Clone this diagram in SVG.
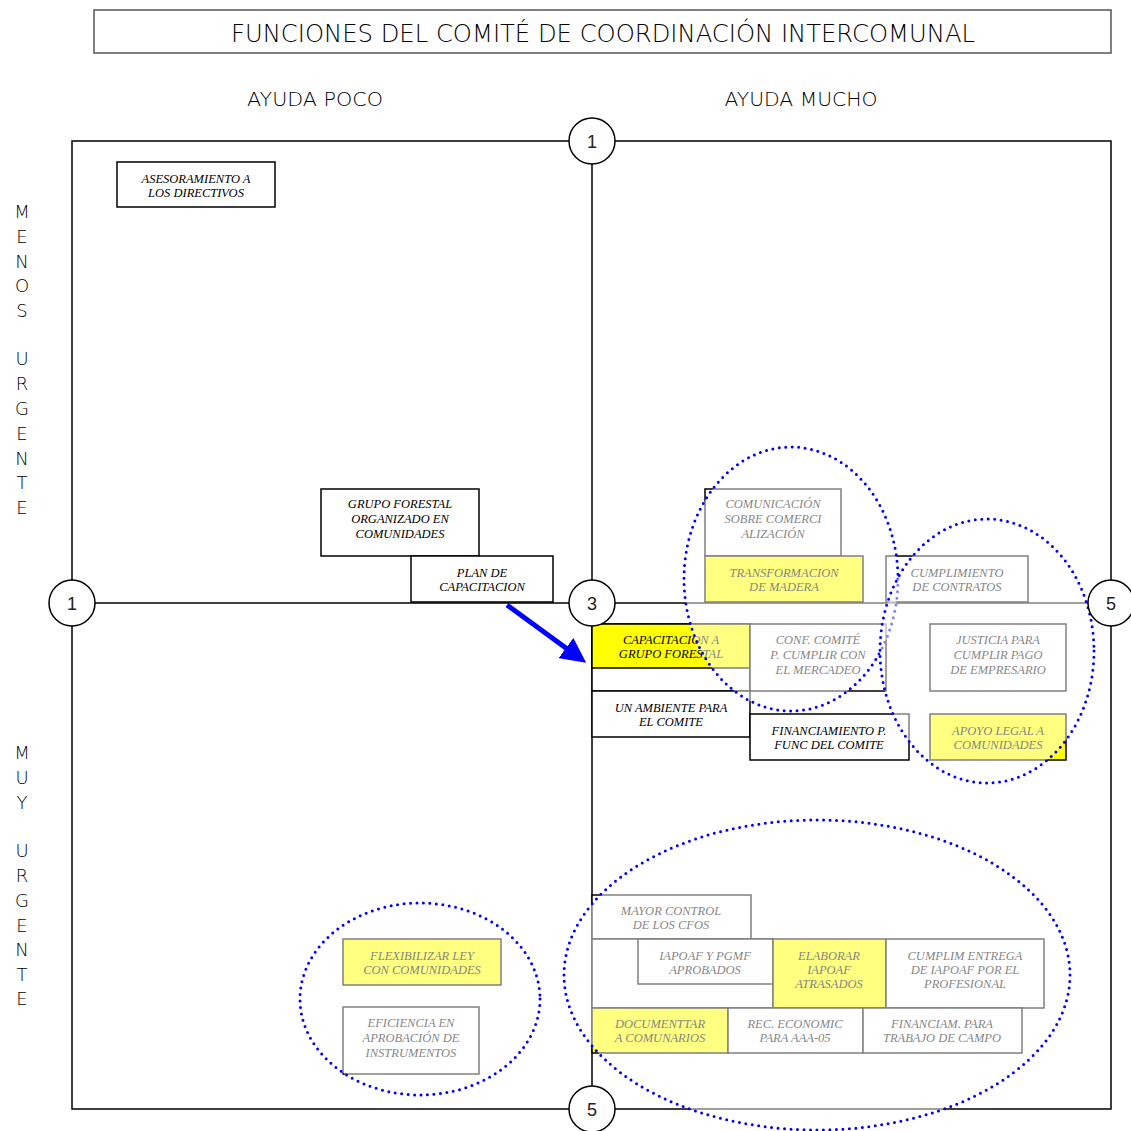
<svg xmlns="http://www.w3.org/2000/svg" width="1131" height="1131" viewBox="0 0 1131 1131">
  <style>
    .frame { fill: none; stroke: #000; stroke-width: 1.5; }
    .axis { stroke: #000; stroke-width: 1.5; }
    .box { fill: #fff; stroke: #000; stroke-width: 1.5; }
    .hl { fill: #ffff00; stroke: #000; stroke-width: 1.5; }
    .lbl { font-family: "Liberation Serif", "Times New Roman", serif; font-style: italic; font-size: 12.5px; fill: #000; text-anchor: middle; }
    .head { font-family: "DejaVu Sans", "Liberation Sans", sans-serif; font-weight: 200; fill: #000; text-anchor: middle; }
    .side { font-family: "DejaVu Sans", "Liberation Sans", sans-serif; font-weight: 200; font-size: 18px; fill: #000; text-anchor: middle; }
    .num circle { fill: #fff; stroke: #000; stroke-width: 1.5; }
    .num text { font-family: "Liberation Sans", Arial, sans-serif; font-size: 18px; fill: #222; text-anchor: middle; }
    .group { fill: #fff; fill-opacity: 0.5; stroke: #0000ff; stroke-width: 3; stroke-linecap: round; stroke-dasharray: 0 6.5; }
  </style>
  <defs>
    <marker id="arrowhead" markerWidth="5" markerHeight="5" refX="1" refY="2.5" orient="auto" markerUnits="strokeWidth">
      <path d="M0,0 L5,2.5 L0,5 z" fill="#0000ff"/>
    </marker>
  </defs>

  <rect width="1131" height="1131" fill="#fff"/>

  <!-- title -->
  <g id="title">
    <rect x="94" y="10" width="1017" height="43" fill="#fff" stroke="#555" stroke-width="1.5"/>
    <text class="head" x="603" y="42" font-size="25" textLength="744" lengthAdjust="spacingAndGlyphs">FUNCIONES DEL COMITÉ DE COORDINACIÓN INTERCOMUNAL</text>
  </g>

  <!-- column headings -->
  <text class="head" x="315" y="106" font-size="19" textLength="136" lengthAdjust="spacingAndGlyphs">AYUDA POCO</text>
  <text class="head" x="801" y="106" font-size="19" textLength="153" lengthAdjust="spacingAndGlyphs">AYUDA MUCHO</text>

  <!-- row headings, one letter per line -->
  <g id="row-top">
    <text class="side" x="22" y="218">M</text>
    <text class="side" x="22" y="243">E</text>
    <text class="side" x="22" y="268">N</text>
    <text class="side" x="22" y="292">O</text>
    <text class="side" x="22" y="317">S</text>
    <text class="side" x="22" y="365">U</text>
    <text class="side" x="22" y="390">R</text>
    <text class="side" x="22" y="415">G</text>
    <text class="side" x="22" y="440">E</text>
    <text class="side" x="22" y="465">N</text>
    <text class="side" x="22" y="489">T</text>
    <text class="side" x="22" y="514">E</text>
  </g>
  <g id="row-bottom">
    <text class="side" x="22" y="759">M</text>
    <text class="side" x="22" y="784">U</text>
    <text class="side" x="22" y="809">Y</text>
    <text class="side" x="22" y="857">U</text>
    <text class="side" x="22" y="882">R</text>
    <text class="side" x="22" y="907">G</text>
    <text class="side" x="22" y="932">E</text>
    <text class="side" x="22" y="956">N</text>
    <text class="side" x="22" y="981">T</text>
    <text class="side" x="22" y="1005">E</text>
  </g>

  <!-- quadrant frame and axes -->
  <g id="matrix">
    <rect class="frame" x="72" y="141" width="1039" height="968"/>
    <line class="axis" x1="592" y1="141" x2="592" y2="1109"/>
    <line class="axis" x1="72" y1="603" x2="1111" y2="603"/>
  </g>

  <!-- upper-left quadrant -->
  <g id="n-asesoramiento">
    <rect class="box" x="117" y="162" width="158" height="45"/>
    <text class="lbl" x="196" y="183">ASESORAMIENTO A</text>
    <text class="lbl" x="196" y="197">LOS DIRECTIVOS</text>
  </g>
  <g id="n-grupo-forestal">
    <rect class="box" x="321" y="489" width="158" height="67"/>
    <text class="lbl" x="400" y="508">GRUPO FORESTAL</text>
    <text class="lbl" x="400" y="523">ORGANIZADO  EN</text>
    <text class="lbl" x="400" y="538">COMUNIDADES</text>
  </g>
  <g id="n-plan">
    <rect class="box" x="411" y="556" width="142" height="46"/>
    <text class="lbl" x="482" y="577">PLAN DE</text>
    <text class="lbl" x="482" y="591">CAPACITACION</text>
  </g>

  <!-- upper-right quadrant -->
  <g id="n-comunicacion">
    <rect class="box" x="705" y="489" width="136" height="67"/>
    <text class="lbl" x="773" y="508">COMUNICACIÓN</text>
    <text class="lbl" x="773" y="523">SOBRE COMERCI</text>
    <text class="lbl" x="773" y="538">ALIZACIÓN</text>
  </g>
  <g id="n-transformacion">
    <rect class="hl" x="705" y="556" width="158" height="46"/>
    <text class="lbl" x="784" y="577">TRANSFORMACION</text>
    <text class="lbl" x="784" y="591">DE MADERA</text>
  </g>
  <g id="n-cumplimiento">
    <rect class="box" x="886" y="556" width="142" height="46"/>
    <text class="lbl" x="957" y="577">CUMPLIMIENTO</text>
    <text class="lbl" x="957" y="591">DE CONTRATOS</text>
  </g>

  <!-- lower-right quadrant, upper cluster -->
  <g id="n-capacitacion">
    <rect class="box" x="592" y="624" width="158" height="67"/>
    <rect class="hl" x="592" y="624" width="158" height="44"/>
    <text class="lbl" x="671" y="644">CAPACITACION A</text>
    <text class="lbl" x="671" y="658">GRUPO FORESTAL</text>
  </g>
  <g id="n-conf-comite">
    <rect class="box" x="750" y="624" width="136" height="67"/>
    <text class="lbl" x="818" y="644">CONF. COMITÉ</text>
    <text class="lbl" x="818" y="659">P. CUMPLIR CON</text>
    <text class="lbl" x="818" y="674">EL MERCADEO</text>
  </g>
  <g id="n-justicia">
    <rect class="box" x="930" y="624" width="136" height="67"/>
    <text class="lbl" x="998" y="644">JUSTICIA PARA</text>
    <text class="lbl" x="998" y="659">CUMPLIR PAGO</text>
    <text class="lbl" x="998" y="674">DE EMPRESARIO</text>
  </g>
  <g id="n-ambiente">
    <rect class="box" x="592" y="691" width="158" height="46"/>
    <text class="lbl" x="671" y="712">UN AMBIENTE PARA</text>
    <text class="lbl" x="671" y="726">EL COMITE</text>
  </g>
  <g id="n-financiamiento">
    <rect class="box" x="750" y="714" width="159" height="46"/>
    <text class="lbl" x="829" y="735">FINANCIAMIENTO P.</text>
    <text class="lbl" x="829" y="749">FUNC DEL  COMITE</text>
  </g>
  <g id="n-apoyo-legal">
    <rect class="hl" x="930" y="714" width="136" height="46"/>
    <text class="lbl" x="998" y="735">APOYO LEGAL A</text>
    <text class="lbl" x="998" y="749">COMUNIDADES</text>
  </g>

  <!-- lower-right quadrant, lower cluster -->
  <g id="n-mayor-control">
    <rect class="box" x="592" y="895" width="159" height="44"/>
    <text class="lbl" x="671" y="915">MAYOR CONTROL</text>
    <text class="lbl" x="671" y="929">DE LOS CFOS</text>
  </g>
  <g id="n-iapoaf-pgmf">
    <rect class="box" x="592" y="939" width="181" height="69"/>
    <rect class="box" x="638" y="939" width="135" height="45"/>
    <text class="lbl" x="705" y="960">IAPOAF Y PGMF</text>
    <text class="lbl" x="705" y="974">APROBADOS</text>
  </g>
  <g id="n-elaborar">
    <rect class="hl" x="773" y="939" width="113" height="69"/>
    <text class="lbl" x="829" y="960">ELABORAR</text>
    <text class="lbl" x="829" y="974">IAPOAF</text>
    <text class="lbl" x="829" y="988">ATRASADOS</text>
  </g>
  <g id="n-cumplim-entrega">
    <rect class="box" x="886" y="939" width="158" height="69"/>
    <text class="lbl" x="965" y="960">CUMPLIM ENTREGA</text>
    <text class="lbl" x="965" y="974">DE IAPOAF POR EL</text>
    <text class="lbl" x="965" y="988">PROFESIONAL</text>
  </g>
  <g id="n-documentar">
    <rect class="hl" x="592" y="1008" width="136" height="45"/>
    <text class="lbl" x="660" y="1028">DOCUMENTTAR</text>
    <text class="lbl" x="660" y="1042">A COMUNARIOS</text>
  </g>
  <g id="n-rec-economic">
    <rect class="box" x="728" y="1008" width="135" height="45"/>
    <text class="lbl" x="795" y="1028">REC. ECONOMIC</text>
    <text class="lbl" x="795" y="1042">PARA AAA-05</text>
  </g>
  <g id="n-financiam-campo">
    <rect class="box" x="863" y="1008" width="159" height="45"/>
    <text class="lbl" x="942" y="1028">FINANCIAM. PARA</text>
    <text class="lbl" x="942" y="1042">TRABAJO DE CAMPO</text>
  </g>

  <!-- lower-left quadrant -->
  <g id="n-flexibilizar">
    <rect class="hl" x="343" y="939" width="158" height="46"/>
    <text class="lbl" x="422" y="960">FLEXIBILIZAR LEY</text>
    <text class="lbl" x="422" y="974">CON COMUNIDADES</text>
  </g>
  <g id="n-eficiencia">
    <rect class="box" x="343" y="1007" width="136" height="67"/>
    <text class="lbl" x="411" y="1027">EFICIENCIA EN</text>
    <text class="lbl" x="411" y="1042">APROBACIÓN DE</text>
    <text class="lbl" x="411" y="1057">INSTRUMENTOS</text>
  </g>

  <!-- dotted groupings, washing out what they enclose -->
  <g id="groupings">
    <ellipse class="group" cx="791" cy="579" rx="107" ry="132"/>
    <ellipse class="group" cx="987" cy="651" rx="107" ry="132"/>
    <ellipse class="group" cx="817" cy="975" rx="253" ry="155"/>
    <ellipse class="group" cx="420" cy="999" rx="120" ry="96"/>
  </g>

  <!-- scale markers on the axes -->
  <g id="scale-markers" class="num">
    <g id="m-top"><circle cx="592" cy="141" r="23"/><text x="592" y="148">1</text></g>
    <g id="m-left"><circle cx="72" cy="603" r="23"/><text x="72" y="610">1</text></g>
    <g id="m-center"><circle cx="592" cy="603" r="23"/><text x="592" y="610">3</text></g>
    <g id="m-right"><circle cx="1111" cy="603" r="23"/><text x="1111" y="610">5</text></g>
    <g id="m-bottom"><circle cx="592" cy="1109" r="23"/><text x="592" y="1116">5</text></g>
  </g>

  <!-- connectors -->
  <g id="connectors">
    <line x1="507" y1="605" x2="570" y2="651" stroke="#0000ff" stroke-width="5" marker-end="url(#arrowhead)"/>
  </g>
</svg>
